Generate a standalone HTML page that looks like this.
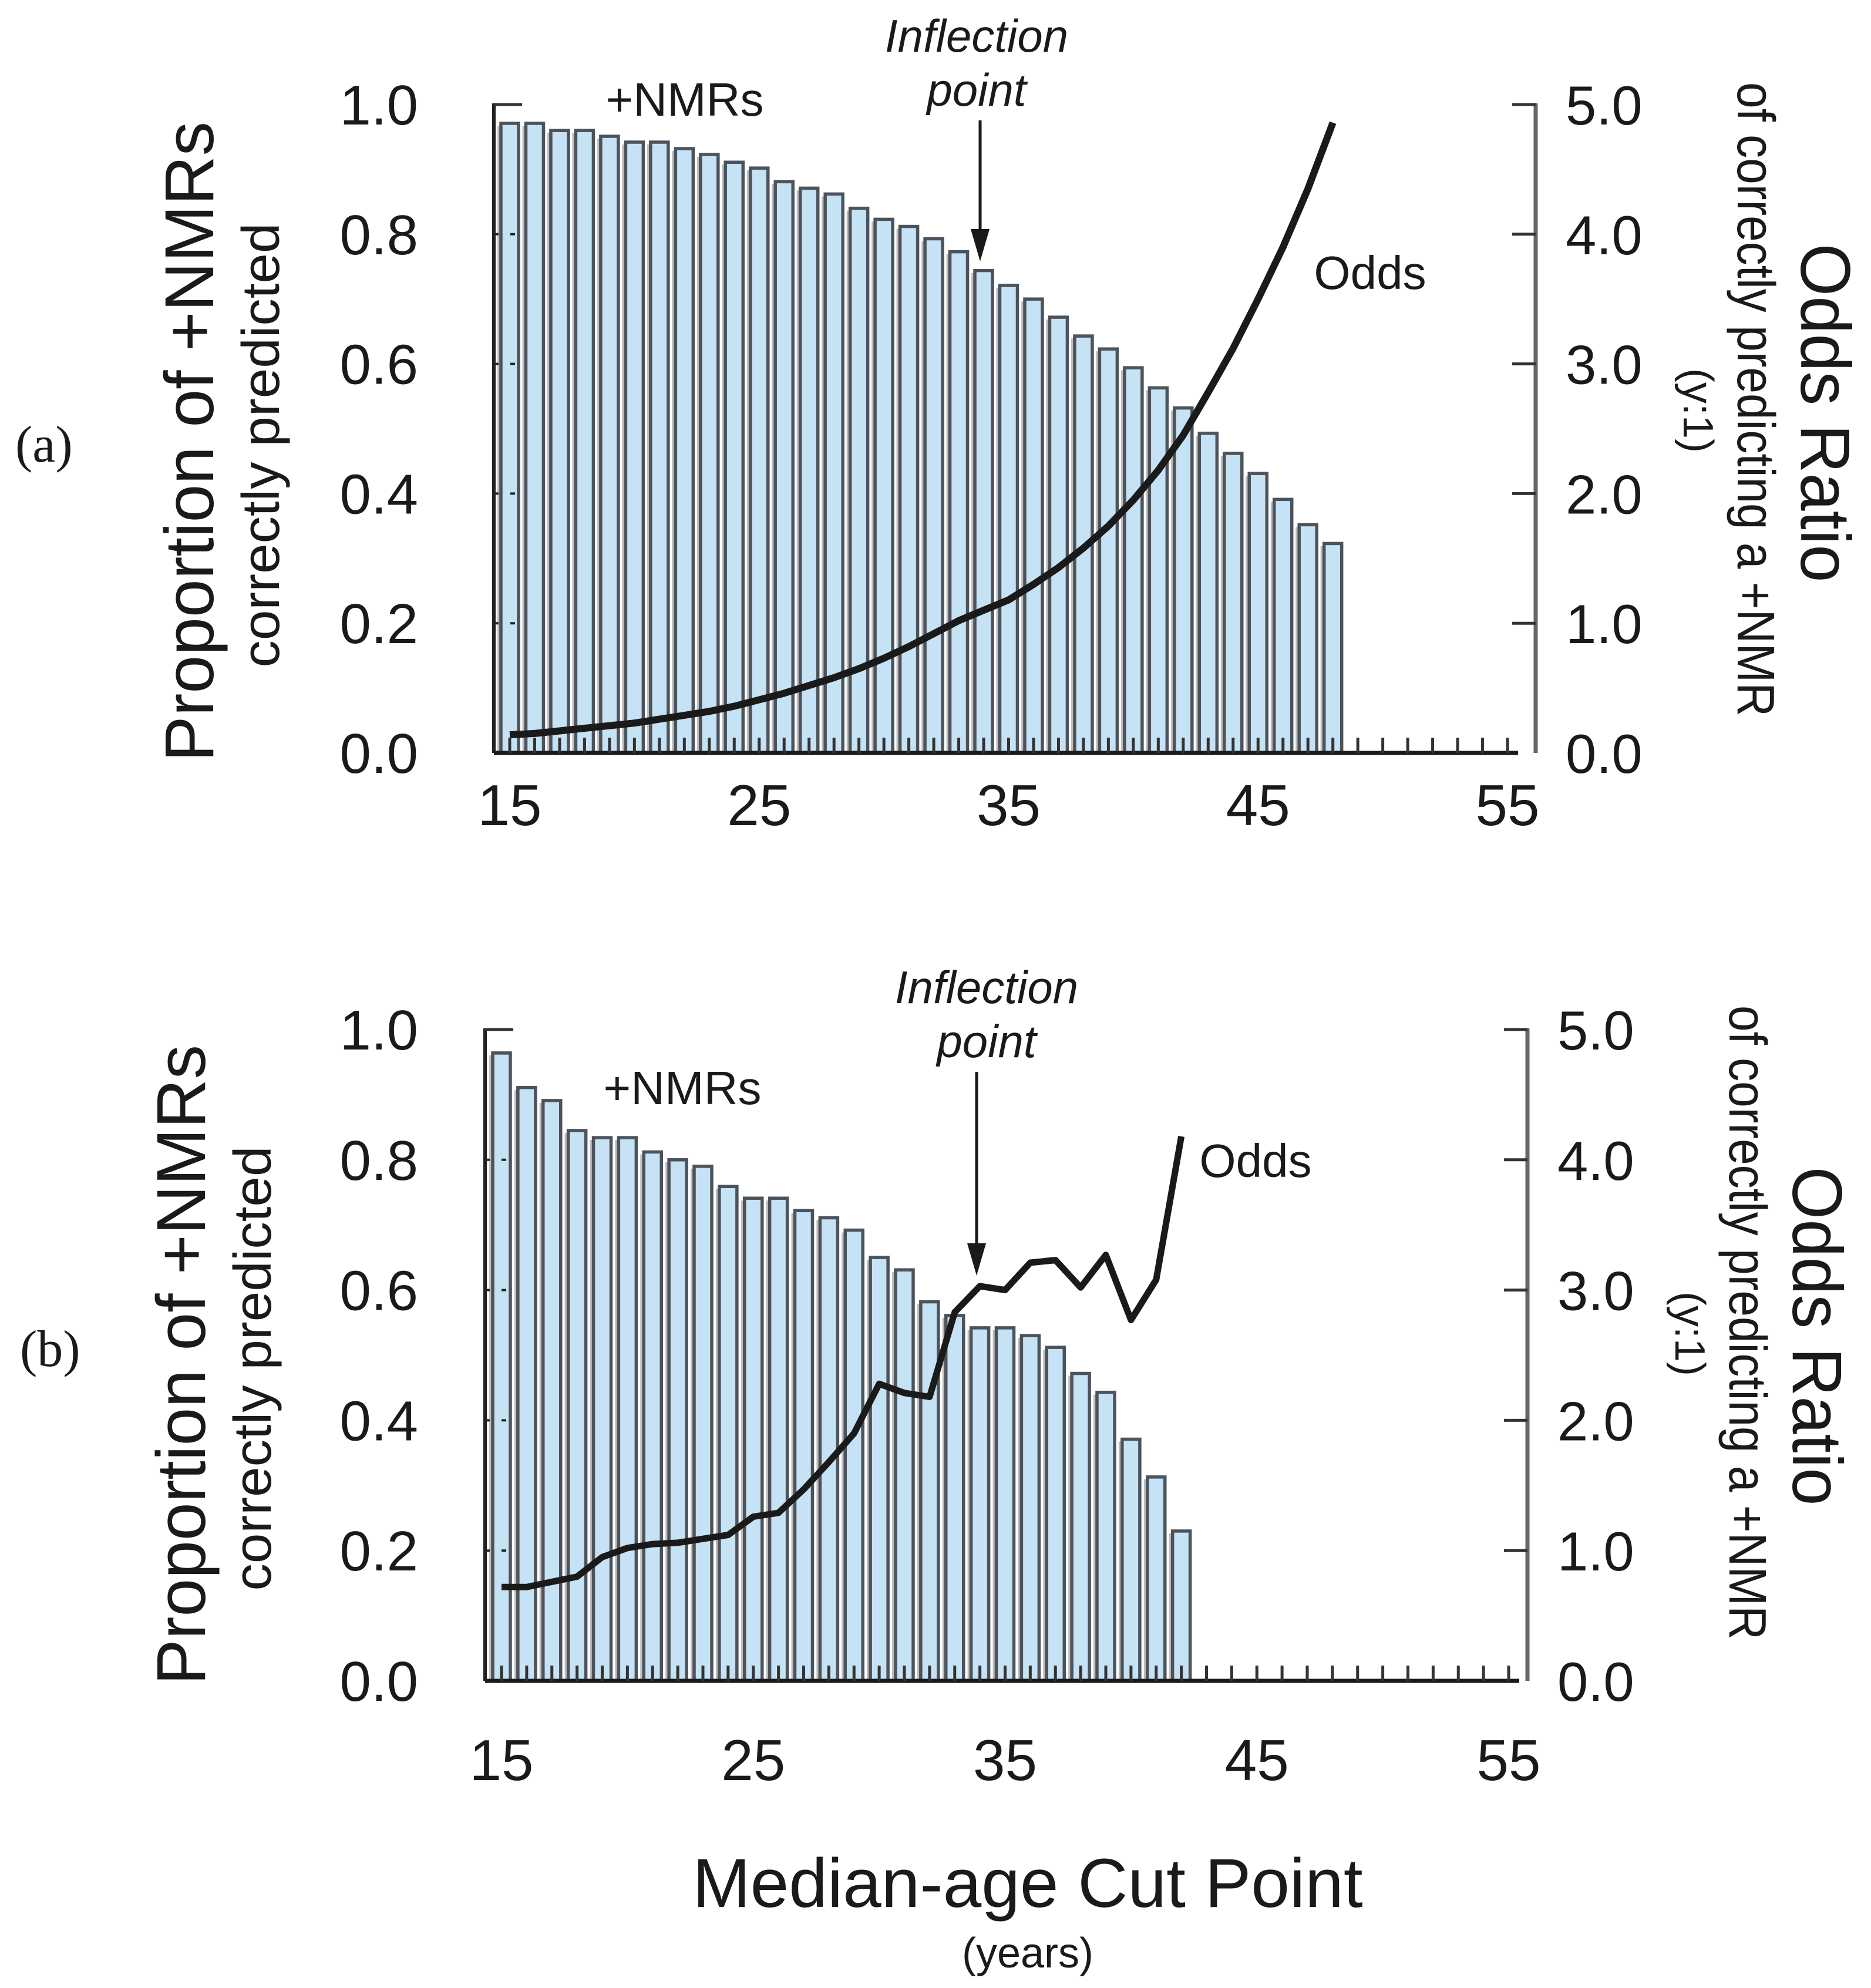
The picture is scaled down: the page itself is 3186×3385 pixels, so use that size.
<!DOCTYPE html>
<html><head><meta charset="utf-8"><style>
html,body{margin:0;padding:0;background:#fff;}
svg{display:block;font-family:"Liberation Sans",sans-serif;}
</style></head><body>
<svg id="fig" width="3186" height="3385" viewBox="0 0 3186 3385" xmlns="http://www.w3.org/2000/svg"></svg>
<script>
// ---- data ----
const yearsA = [15,16,17,18,19,20,21,22,23,24,25,26,27,28,29,30,31,32,33,34,35,36,37,38,39,40,41,42,43,44,45,46,47,48];
const propA = [.971,.971,.960,.960,.951,.942,.942,.932,.923,.911,.902,.881,.871,.862,.840,.823,.812,.793,.773,.744,.721,.700,.672,.643,.623,.594,.563,.532,.493,.462,.431,.391,.352,.323];
const oddsA = [.14,.15,.17,.19,.21,.23,.26,.29,.32,.36,.41,.46,.52,.58,.65,.73,.82,.92,1.02,1.10,1.18,1.30,1.43,1.58,1.75,1.95,2.18,2.45,2.78,3.12,3.5,3.9,4.35,4.86];
const yearsB = [15,16,17,18,19,20,21,22,23,24,25,26,27,28,29,30,31,32,33,34,35,36,37,38,39,40,41,42];
const propB = [.964,.911,.891,.845,.834,.834,.812,.800,.790,.759,.741,.741,.722,.711,.692,.650,.631,.582,.561,.542,.542,.530,.512,.472,.443,.371,.313,.230];
const oddsB = [.72,.72,.76,.80,.95,1.02,1.05,1.06,1.09,1.12,1.26,1.29,1.47,1.68,1.90,2.28,2.21,2.18,2.83,3.03,3.0,3.21,3.23,3.02,3.27,2.77,3.08,4.18];
const leftTicks = ["0.0","0.2","0.4","0.6","0.8","1.0"];
const rightTicks = ["0.0","1.0","2.0","3.0","4.0","5.0"];
const xTicks = [15,25,35,45,55];

const NS="http://www.w3.org/2000/svg";
const svg=document.getElementById('fig');
function mk(tag,attrs,parent,text){const e=document.createElementNS(NS,tag);for(const k in attrs)e.setAttribute(k,attrs[k]);if(text!==undefined)e.textContent=text;(parent||svg).appendChild(e);return e;}

function chart(cfg, years, props, odds, id){
  const g=mk('g',{});
  
  
  const X=v=>cfg.x15+(v-15)*(cfg.x55-cfg.x15)/40;
  const YL=v=>cfg.y0+(cfg.y1-cfg.y0)*v;
  const YR=v=>cfg.y0+(cfg.y1-cfg.y0)*v/5;
  years.forEach((yr,i)=>{
    mk('rect',{x:X(yr)-21,y:YL(props[i])+4,width:8,height:cfg.y0-YL(props[i])-4,fill:'#bdbdbd'},g);
    const b=mk('rect',{x:X(yr)-15,y:YL(props[i]),width:30,height:cfg.y0-YL(props[i]),fill:'#c6e2f5',stroke:'#4d535b','stroke-width':5.5},g);
    
    
  });
  const xa=mk('line',{x1:cfg.axL,y1:cfg.y0,x2:cfg.x55+18,y2:cfg.y0,stroke:'#1a1a1a','stroke-width':7},g);
  
  
  for(let v=15;v<=55;v++){
    mk('line',{x1:X(v),y1:cfg.y0,x2:X(v),y2:cfg.y0-26,stroke:'#333','stroke-width':5},g);
  }
  xTicks.forEach(v=>{
    const t=mk('text',{x:X(v),y:cfg.y0+cfg.xlab,'text-anchor':'middle','font-size':98,fill:'#1a1a1a'},g,String(v));
    
    
  });
  const la=mk('line',{x1:cfg.axL,y1:cfg.y1-2,x2:cfg.axL,y2:cfg.y0,stroke:'#222','stroke-width':6},g);
  
  
  mk('line',{x1:cfg.axL,y1:cfg.y1,x2:cfg.axL+48,y2:cfg.y1,stroke:'#333','stroke-width':5},g);
  leftTicks.forEach((s,i)=>{
    const v=i*0.2;
    if(i>0&&i<5) mk('line',{x1:cfg.axL,y1:YL(v),x2:cfg.axL+48,y2:YL(v),stroke:'#222','stroke-width':4,'stroke-dasharray':'8 20'},g);
    const t=mk('text',{x:cfg.lLab,y:YL(v)+34,'text-anchor':'end','font-size':96,fill:'#1a1a1a'},g,s);
    
    
  });
  const ra=mk('line',{x1:cfg.axR,y1:cfg.y1-2,x2:cfg.axR,y2:cfg.y0,stroke:'#666','stroke-width':7},g);
  
  
  rightTicks.forEach((s,i)=>{
    if(i>0) mk('line',{x1:cfg.axR-40,y1:YR(i),x2:cfg.axR,y2:YR(i),stroke:'#333','stroke-width':5},g);
    const t=mk('text',{x:cfg.rLab,y:YR(i)+34,'text-anchor':'start','font-size':94,fill:'#1a1a1a'},g,s);
    
    
  });
  let d='';
  years.forEach((yr,i)=>{d+=(i?'L':'M')+X(yr).toFixed(1)+','+YR(odds[i]).toFixed(1);});
  const ln=mk('path',{d:d,fill:'none',stroke:'#1a1a1a','stroke-width':cfg.lw,'stroke-linejoin':'round'},g);
  
  
  return g;
}

const cfgA={x15:868,x55:2567,y0:1282,y1:178,axL:841,axR:2615,lLab:712,rLab:2666,xlab:123,lw:12};
const cfgB={x15:854,x55:2569,y0:2862,y1:1753,axL:826,axR:2601,lLab:712,rLab:2652,xlab:169,lw:11};
chart(cfgA,yearsA,propA,oddsA,'panel-a');
chart(cfgB,yearsB,propB,oddsB,'panel-b');

function txt(name,attrs,s){const t=mk('text',attrs,svg,s);return t;}
function titles(dy,dx,lab,labx,laby){
  txt('panel-label',{x:labx,y:laby,'font-size':88,'font-family':'"Liberation Serif",serif',fill:'#1a1a1a'},lab);
  txt('left-axis-title',{x:363+dx,y:752+dy,'text-anchor':'middle','font-size':118,fill:'#1a1a1a',transform:`rotate(-90 ${363+dx} ${752+dy})`,textLength:1090,lengthAdjust:'spacingAndGlyphs'},'Proportion of +NMRs');
  txt('left-axis-subtitle',{x:475+dx,y:758+dy,'text-anchor':'middle','font-size':90,fill:'#1a1a1a',transform:`rotate(-90 ${475+dx} ${758+dy})`,textLength:757,lengthAdjust:'spacingAndGlyphs'},'correctly predicted');
  txt('right-axis-title',{x:3067+dx,y:703+dy,'text-anchor':'middle','font-size':120,fill:'#1a1a1a',transform:`rotate(90 ${3067+dx} ${703+dy})`,textLength:577,lengthAdjust:'spacingAndGlyphs'},'Odds Ratio');
  txt('right-axis-subtitle',{x:2959+dx,y:680+dy,'text-anchor':'middle','font-size':90,fill:'#1a1a1a',transform:`rotate(90 ${2959+dx} ${680+dy})`,textLength:1080,lengthAdjust:'spacingAndGlyphs'},'of correctly predicting a +NMR');
  txt('right-axis-units',{x:2867+dx,y:699+dy,'text-anchor':'middle','font-size':72,fill:'#1a1a1a',transform:`rotate(90 ${2867+dx} ${699+dy})`},'(y:1)');
}
titles(0,0,'(a)',26,786);
titles(1572,-14,'(b)',34,2326);

txt('nmrs-label-a',{x:1166,y:197,'text-anchor':'middle','font-size':80,fill:'#1a1a1a'},'+NMRs');
txt('inflection-label-a',{x:1663,y:88,'text-anchor':'middle','font-size':78,'font-style':'italic',fill:'#1a1a1a'},'Inflection');
txt('inflection-label-a2',{x:1663,y:180,'text-anchor':'middle','font-size':78,'font-style':'italic',fill:'#1a1a1a'},'point');
txt('odds-label-a',{x:2333,y:492,'text-anchor':'middle','font-size':80,fill:'#1a1a1a'},'Odds');
txt('nmrs-label-b',{x:1162,y:1880,'text-anchor':'middle','font-size':80,fill:'#1a1a1a'},'+NMRs');
txt('inflection-label-b',{x:1680,y:1708,'text-anchor':'middle','font-size':78,'font-style':'italic',fill:'#1a1a1a'},'Inflection');
txt('inflection-label-b2',{x:1680,y:1800,'text-anchor':'middle','font-size':78,'font-style':'italic',fill:'#1a1a1a'},'point');
txt('odds-label-b',{x:2138,y:2004,'text-anchor':'middle','font-size':80,fill:'#1a1a1a'},'Odds');

function arrow(name,x,y1,y2){
  const g=mk('g',{});
  
  
  mk('line',{x1:x,y1:y1,x2:x,y2:y2-30,stroke:'#1a1a1a','stroke-width':5},g);
  mk('polygon',{points:`${x-16},${y2-55} ${x+16},${y2-55} ${x},${y2}`,fill:'#1a1a1a'},g);
}
arrow('inflection-arrow-a',1669,205,445);
arrow('inflection-arrow-b',1663,1825,2172);

txt('x-axis-title',{x:1750,y:3247,'text-anchor':'middle','font-size':118,fill:'#1a1a1a'},'Median-age Cut Point');
txt('x-axis-units',{x:1750,y:3350,'text-anchor':'middle','font-size':72,fill:'#1a1a1a'},'(years)');
</script>
</body></html>
